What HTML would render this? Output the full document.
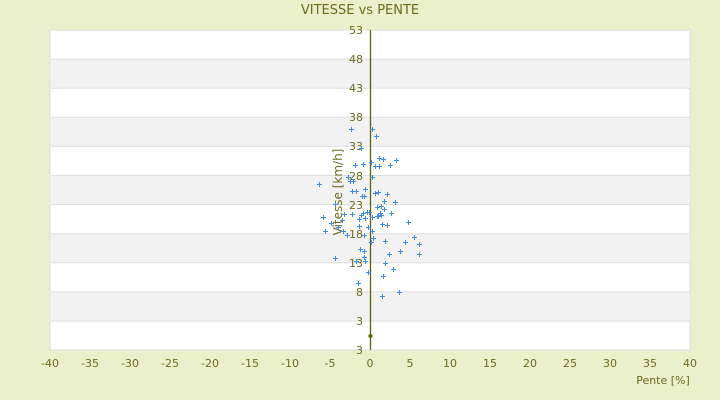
<!DOCTYPE html>
<html><head><meta charset="utf-8"><style>
html,body{margin:0;padding:0;background:#ebf0cc;}
svg{display:block;font-family:"DejaVu Sans","Liberation Sans",sans-serif;}
</style></head><body>
<svg width="720" height="400" viewBox="0 0 720 400" xmlns="http://www.w3.org/2000/svg">
<rect width="720" height="400" fill="#ebf0cc"/>
<rect x="50" y="30" width="640" height="320" fill="#fff" stroke="#dcdcdc"/>
<g fill="#f2f2f2">
<rect x="51" y="59.1" width="639" height="29.1"/>
<rect x="51" y="117.3" width="639" height="29.1"/>
<rect x="51" y="175.5" width="639" height="29.1"/>
<rect x="51" y="233.7" width="639" height="29.1"/>
<rect x="51" y="291.9" width="639" height="29.1"/>
</g>
<g stroke="#dedede" stroke-width="1">
<line x1="51" x2="690" y1="59.1" y2="59.1"/><line x1="51" x2="690" y1="88.2" y2="88.2"/>
<line x1="51" x2="690" y1="117.3" y2="117.3"/><line x1="51" x2="690" y1="146.4" y2="146.4"/>
<line x1="51" x2="690" y1="175.5" y2="175.5"/><line x1="51" x2="690" y1="204.6" y2="204.6"/>
<line x1="51" x2="690" y1="233.7" y2="233.7"/><line x1="51" x2="690" y1="262.8" y2="262.8"/>
<line x1="51" x2="690" y1="291.9" y2="291.9"/><line x1="51" x2="690" y1="321" y2="321"/>
</g>
<line x1="370.5" x2="370.5" y1="30" y2="350" stroke="#5a6400" stroke-width="1.3"/>
<rect x="368.5" y="334.5" width="4" height="3" fill="#5a6400"/>
<g fill="#6b6b1e" font-size="11" text-anchor="end">
<text x="363" y="34">53</text><text x="363" y="63">48</text><text x="363" y="92">43</text>
<text x="363" y="121">38</text><text x="363" y="150">33</text><text x="363" y="180">28</text>
<text x="363" y="209">23</text><text x="363" y="238">18</text><text x="363" y="267">13</text>
<text x="363" y="296">8</text><text x="363" y="325">3</text><text x="363" y="354">3</text>
</g>
<g fill="#6b6b1e" font-size="11" text-anchor="middle">
<text x="50" y="367">-40</text><text x="90" y="367">-35</text><text x="130" y="367">-30</text>
<text x="170" y="367">-25</text><text x="210" y="367">-20</text><text x="250" y="367">-15</text>
<text x="290" y="367">-10</text><text x="330" y="367">-5</text><text x="370" y="367">0</text>
<text x="410" y="367">5</text><text x="450" y="367">10</text><text x="490" y="367">15</text>
<text x="530" y="367">20</text><text x="570" y="367">25</text><text x="610" y="367">30</text>
<text x="650" y="367">35</text><text x="690" y="367">40</text>
<text x="663" y="384">Pente [%]</text>
<text x="360" y="14" font-size="13">VITESSE vs PENTE</text>
<text transform="translate(342,192) rotate(-90)" font-size="12">Vitesse [km/h]</text>
</g>
<path stroke="#3a8ee6" stroke-width="1" fill="none" d="
M349 129.5h5M351.5 127v5 M370 129.5h5M372.5 127v5 M374 136.5h5M376.5 134v5 M359 148.5h5M361.5 146v5
M377 158.5h5M379.5 156v5 M381 159.5h5M383.5 157v5 M394 160.5h5M396.5 158v5 M369 162.5h5M371.5 160v5
M361 164.5h5M363.5 162v5 M353 165.5h5M355.5 163v5 M373 166.5h5M375.5 164v5 M377 166.5h5M379.5 164v5
M388 165.5h5M390.5 163v5 M370 177.5h5M372.5 175v5 M346 177.5h5M348.5 175v5 M348 181.5h5M350.5 179v5
M351 181.5h5M353.5 179v5 M317 184.5h5M319.5 182v5 M350 191.5h5M352.5 189v5 M354 191.5h5M356.5 189v5
M363 189.5h5M365.5 187v5 M373 193.5h5M375.5 191v5 M376 192.5h5M378.5 190v5 M385 194.5h5M387.5 192v5
M360 196.5h5M362.5 194v5 M362 196.5h5M364.5 194v5 M382 201.5h5M384.5 199v5 M393 202.5h5M395.5 200v5
M333 204.5h5M335.5 202v5 M379 206.5h5M381.5 204v5 M375 207.5h5M377.5 205v5 M382 209.5h5M384.5 207v5
M389 213.5h5M391.5 211v5 M367 212.5h5M369.5 210v5 M365 212.5h5M367.5 210v5 M361 213.5h5M363.5 211v5
M359 215.5h5M361.5 213v5 M350 214.5h5M352.5 212v5 M321 217.5h5M323.5 215v5 M342 214.5h5M344.5 212v5
M378 213.5h5M380.5 211v5 M376 216.5h5M378.5 214v5 M379 215.5h5M381.5 213v5 M357 219.5h5M359.5 217v5
M363 218.5h5M365.5 216v5 M370 217.5h5M372.5 215v5 M375 216.5h5M377.5 214v5 M340 220.5h5M342.5 218v5
M329 223.5h5M331.5 221v5 M406 222.5h5M408.5 220v5 M380 224.5h5M382.5 222v5 M385 225.5h5M387.5 223v5
M357 226.5h5M359.5 224v5 M366 227.5h5M368.5 225v5 M336 227.5h5M338.5 225v5 M323 231.5h5M325.5 229v5
M345 235.5h5M347.5 233v5 M412 237.5h5M414.5 235v5 M371 238.5h5M373.5 236v5 M341 231.5h5M343.5 229v5
M362 235.5h5M364.5 233v5 M370 231.5h5M372.5 229v5 M369 242.5h5M371.5 240v5 M383 241.5h5M385.5 239v5
M403 242.5h5M405.5 240v5 M417 244.5h5M419.5 242v5 M358 249.5h5M360.5 247v5 M362 251.5h5M364.5 249v5
M398 251.5h5M400.5 249v5 M387 254.5h5M389.5 252v5 M417 254.5h5M419.5 252v5 M333 258.5h5M335.5 256v5
M362 257.5h5M364.5 255v5 M354 261.5h5M356.5 259v5 M363 261.5h5M365.5 259v5 M383 263.5h5M385.5 261v5
M391 269.5h5M393.5 267v5 M366 272.5h5M368.5 270v5 M381 276.5h5M383.5 274v5 M356 283.5h5M358.5 281v5
M397 292.5h5M399.5 290v5 M380 296.5h5M382.5 294v5"/>
</svg>
</body></html>
